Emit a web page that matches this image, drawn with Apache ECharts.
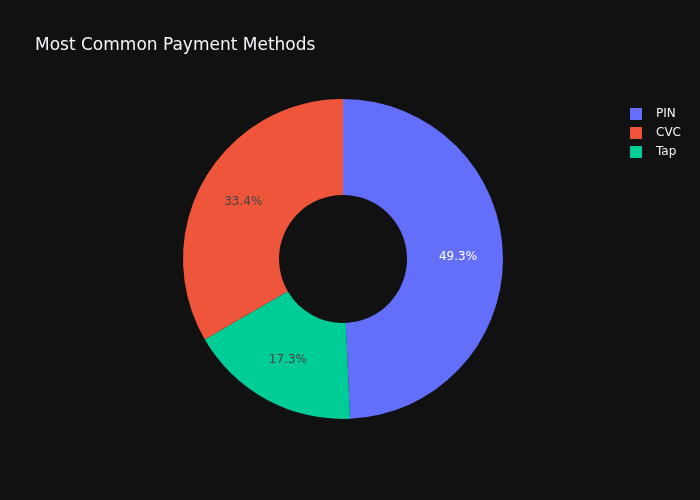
<!DOCTYPE html>
<html>
<head>
<meta charset="utf-8">
<script src="https://cdn.jsdelivr.net/npm/echarts@6/dist/echarts.min.js"></script>
<style>html,body{margin:0;padding:0;background:#111111;}#c{width:700px;height:500px;}</style>
</head>
<body>
<div id="c"></div>
<script>
const categories = ['PIN', 'CVC', 'Tap'];
const values = [49.3, 33.4, 17.3];
const colors = ['#636efa', '#EF553B', '#00cc96'];
const labelColors = ['#ffffff', '#444444', '#444444'];
// drawing order (clockwise from 12 o'clock)
const drawOrder = ['PIN', 'Tap', 'CVC'];

const data = drawOrder.map(function (name) {
  const i = categories.indexOf(name);
  return {
    name: name,
    value: values[i],
    itemStyle: { color: colors[i] },
    label: { color: labelColors[i] }
  };
});

const chart = echarts.init(document.getElementById('c'));
chart.setOption({
  backgroundColor: '#111111',
  animation: false,
  title: {
    text: 'Most Common Payment Methods',
    left: 30,
    top: 32,
    textStyle: { color: '#f2f5fa', fontSize: 17, fontWeight: 'normal', fontFamily: 'DejaVu Sans' }
  },
  legend: {
    data: categories,
    orient: 'vertical',
    left: 625,
    top: 103,
    icon: 'rect',
    itemWidth: 12,
    itemHeight: 12,
    itemGap: 7,
    textStyle: { color: '#f2f5fa', fontSize: 12, fontFamily: 'DejaVu Sans', padding: [0, 0, 0, 9] }
  },
  series: [{
    type: 'pie',
    center: [343, 259],
    radius: [64, 160],
    startAngle: 90,
    clockwise: true,
    percentPrecision: 1,
    avoidLabelOverlap: false,
    label: {
      show: true,
      position: 'inside',
      formatter: '{d}%',
      fontSize: 12,
      fontFamily: 'DejaVu Sans'
    },
    labelLine: { show: false },
    emphasis: { disabled: true },
    data: data
  }]
});
</script>
</body>
</html>
